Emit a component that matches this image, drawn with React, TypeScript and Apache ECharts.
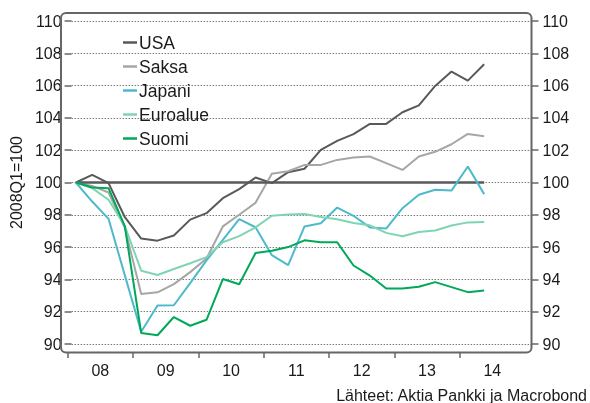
import React, { useEffect, useRef } from "react";
import * as echarts from "echarts";

const years = ["2008", "2009", "2010", "2011", "2012", "2013", "2014"];
const quarters: string[] = years.flatMap((y) => ["Q1", "Q2", "Q3", "Q4"].map((q) => y + q));
const yearLabels = ["08", "09", "10", "11", "12", "13", "14"];
const yearTickValues = [0, 4, 8, 12, 16, 20, 24];
const yearLabelValues = [2, 6, 10, 14, 18, 22, 26];

const usa = [100, 100.47, 99.96, 97.85, 96.53, 96.4, 96.72, 97.7, 98.1, 99.03, 99.59, 100.31, 99.96, 100.64, 100.85, 102.02, 102.58, 103.0, 103.63, 103.63, 104.35, 104.78, 105.98, 106.87, 106.31, 107.32];
const saksa = [100, 99.79, 99.38, 97.2, 93.09, 93.2, 93.71, 94.45, 95.3, 97.28, 98.0, 98.74, 100.54, 100.7, 101.09, 101.09, 101.4, 101.55, 101.61, 101.2, 100.78, 101.61, 101.9, 102.37, 103.01, 102.87];
const japani = [100, 98.82, 97.75, 94.25, 90.76, 92.38, 92.4, 93.77, 95.18, 96.45, 97.73, 97.23, 95.5, 94.88, 97.28, 97.48, 98.45, 97.94, 97.22, 97.15, 98.41, 99.24, 99.55, 99.5, 100.99, 99.28];
const euroalue = [100, 99.65, 98.93, 97.3, 94.54, 94.27, 94.64, 95.0, 95.38, 96.3, 96.68, 97.22, 97.94, 98.02, 98.05, 97.86, 97.73, 97.49, 97.35, 96.88, 96.67, 96.93, 97.03, 97.34, 97.53, 97.56];
const suomi = [100, 99.69, 99.65, 97.28, 90.68, 90.54, 91.67, 91.13, 91.5, 94.02, 93.7, 95.63, 95.77, 96.0, 96.42, 96.3, 96.3, 94.86, 94.24, 93.44, 93.44, 93.54, 93.83, 93.52, 93.21, 93.31];
const baseline = 100;
const baselineStart = quarters[0];
const baselineEnd = quarters[usa.length - 1];

const seriesNames = ["USA", "Saksa", "Japani", "Euroalue", "Suomi"];
const seriesColors = ["#595959", "#a6a6a6", "#4dbacb", "#7fd5b1", "#00a859"];
const seriesData = [usa, saksa, japani, euroalue, suomi];

const FONT = "'Liberation Sans', Arial, Helvetica, sans-serif";
const FRAME = "#666666";
const TEXT = "#1a1a1a";

export default function App() {
  const ref = useRef<HTMLDivElement>(null);
  useEffect(() => {
    if (!ref.current) return;
    const chart = echarts.init(ref.current, undefined, { renderer: "svg" });
    const series: any[] = seriesNames.map((name, i) => ({
      name,
      type: "line",
      xAxisIndex: 0,
      yAxisIndex: 0,
      data: seriesData[i],
      symbol: "none",
      lineStyle: { color: seriesColors[i], width: 2 },
      itemStyle: { color: seriesColors[i] },
      z: 3 + i,
      ...(i === 0
        ? {
            markLine: {
              silent: true,
              symbol: ["none", "none"],
              label: { show: false },
              lineStyle: { color: "#595959", width: 2.5, type: "solid" },
              data: [[{ coord: [baselineStart, baseline] }, { coord: [baselineEnd, baseline] }]],
            },
          }
        : {}),
    }));
    chart.setOption({
      animation: false,
      textStyle: { fontFamily: FONT },
      grid: [
        { left: 67.7, right: 65, top: 21, bottom: 59 },
        { left: 61, right: 58.5, top: 21, bottom: 59 },
      ],
      xAxis: [
        { type: "category", gridIndex: 0, data: quarters, boundaryGap: true, show: false },
        {
          type: "value",
          gridIndex: 0,
          min: 0,
          max: 28,
          position: "bottom",
          offset: 8,
          axisLine: { show: false },
          splitLine: { show: false },
          axisTick: {
            show: true,
            customValues: yearTickValues,
            length: 6,
            lineStyle: { color: FRAME, width: 1.5 },
          },
          axisLabel: {
            customValues: yearLabelValues,
            formatter: (v: number) => yearLabels[yearLabelValues.indexOf(v)] ?? "",
            margin: 10,
            fontSize: 16,
            color: TEXT,
            fontFamily: FONT,
          },
        },
        { type: "value", gridIndex: 1, min: 0, max: 1, show: false },
      ],
      yAxis: [
        { type: "value", gridIndex: 0, min: 90, max: 110, interval: 2, show: false },
        {
          type: "value",
          gridIndex: 1,
          position: "left",
          min: 90,
          max: 110,
          interval: 2,
          name: "2008Q1=100",
          nameLocation: "middle",
          nameGap: 38,
          nameRotate: 90,
          nameTextStyle: { fontSize: 16, color: TEXT, fontFamily: FONT },
          axisLine: { show: false },
          axisTick: { show: true, length: 7, lineStyle: { color: FRAME, width: 1.5 } },
          axisLabel: { margin: 10, fontSize: 16, color: TEXT, fontFamily: FONT },
          splitLine: { show: true, lineStyle: { color: "#7a7a7a", type: [1.5, 1.5], width: 1 } },
        },
        {
          type: "value",
          gridIndex: 1,
          position: "right",
          min: 90,
          max: 110,
          interval: 2,
          axisLine: { show: false },
          axisTick: { show: true, length: 7, lineStyle: { color: FRAME, width: 1.5 } },
          axisLabel: { margin: 11, fontSize: 16, color: TEXT, fontFamily: FONT },
          splitLine: { show: false },
        },
      ],
      legend: {
        data: seriesNames,
        orient: "vertical",
        left: 118,
        top: 27.5,
        itemGap: 4,
        itemWidth: 14,
        itemHeight: 2.5,
        icon: "rect",
        textStyle: { fontSize: 17.5, lineHeight: 20, color: TEXT, fontFamily: FONT, padding: [0, 0, 0, -3] },
      },
      graphic: [
        {
          type: "rect",
          shape: { x: 61, y: 13, width: 470.5, height: 339.5, r: 5 },
          style: { fill: "none", stroke: FRAME, lineWidth: 2 },
          z: 10,
          silent: true,
        },
        {
          type: "text",
          x: 587,
          y: 395,
          style: {
            text: "Lähteet: Aktia Pankki ja Macrobond",
            fill: TEXT,
            fontSize: 16,
            fontFamily: FONT,
            align: "right",
            verticalAlign: "middle",
          },
        },
      ],
      series,
    });
    return () => chart.dispose();
  }, []);
  return <div ref={ref} style={{ position: "fixed", left: 0, top: 0, width: 590, height: 403 }} />;
}
